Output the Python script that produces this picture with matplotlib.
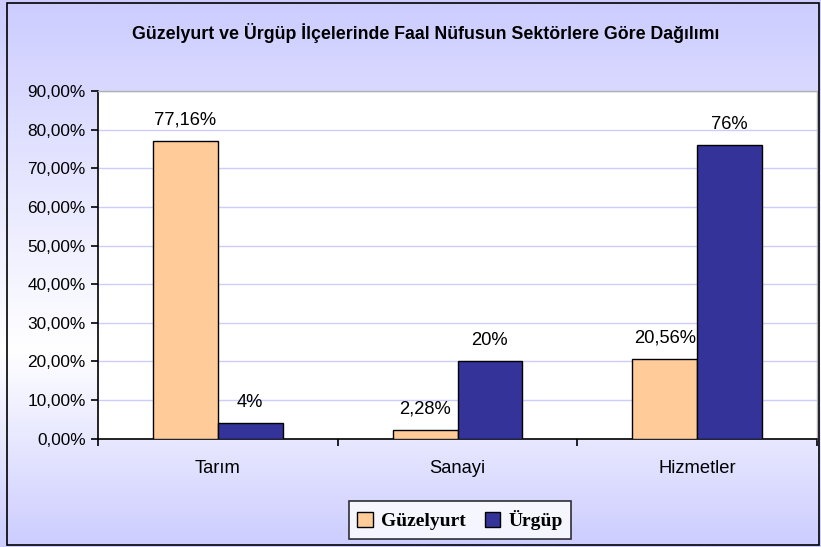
import numpy as np
import matplotlib
matplotlib.use("Agg")
from matplotlib import pyplot as plt
from matplotlib.patches import Rectangle
from matplotlib.ticker import FuncFormatter, FixedLocator

categories = ["Tarım", "Sanayi", "Hizmetler"]
guzelyurt = [0.7716, 0.0228, 0.2056]
urgup = [0.04, 0.20, 0.76]
guzelyurt_labels = ["77,16%", "2,28%", "20,56%"]
urgup_labels = ["4%", "20%", "76%"]
title = "Güzelyurt ve Ürgüp İlçelerinde Faal Nüfusun Sektörlere Göre Dağılımı"

plt.rcParams['font.family'] = ['Liberation Sans', 'DejaVu Sans']

fig = plt.figure(figsize=(8.21, 5.47), dpi=100)

# gradient background: lavender at top and bottom, white lower-middle
bg = fig.add_axes([0, 0, 1, 1], zorder=0)
t = np.linspace(0, 1, 400)
centre = 0.36
w = np.where(t < centre, 1 - t / centre, (t - centre) / (1 - centre))
lav = np.array([204, 204, 255]) / 255
col = 1 - w[:, None] * (1 - lav)
bg.imshow(col[:, None, :], aspect="auto", extent=[0, 1, 0, 1], origin="lower")
bg.set_xlim(0, 1)
bg.set_ylim(0, 1)
bg.axis("off")
fig.patches.append(Rectangle((7 / 821, 2 / 547), 812 / 821, 542 / 547, transform=fig.transFigure,
                             fill=False, edgecolor="black", linewidth=1.2, zorder=10))

ax = fig.add_axes([98 / 821, (547 - 438.7) / 547, 719 / 821, 347.7 / 547], zorder=1)
ax.set_facecolor("white")

x = np.arange(len(categories))
bw = 0.27
ax.bar(x - bw / 2, guzelyurt, bw, color="#FFCC99", edgecolor="black", linewidth=1, label="Güzelyurt", zorder=3)
ax.bar(x + bw / 2, urgup, bw, color="#333399", edgecolor="black", linewidth=1, label="Ürgüp", zorder=3)

for xi, v, s in zip(x, guzelyurt, guzelyurt_labels):
    ax.annotate(s, (xi - bw / 2, v), xytext=(0, 9), textcoords="offset points",
                ha="center", va="bottom", fontsize=13.2, zorder=4)
for xi, v, s in zip(x, urgup, urgup_labels):
    ax.annotate(s, (xi + bw / 2, v), xytext=(0, 9), textcoords="offset points",
                ha="center", va="bottom", fontsize=13.2, zorder=4)

ax.set_xlim(-0.5, len(categories) - 0.5)
ax.set_ylim(0, 0.9)
ax.yaxis.set_major_locator(FixedLocator(np.arange(0, 0.91, 0.1)))
ax.yaxis.set_major_formatter(FuncFormatter(lambda v, p: f"{v * 100:.2f}%".replace(".", ",")))
ax.grid(axis="y", color="#CCCCFF", linewidth=1, zorder=0)
ax.set_axisbelow(True)

ax.set_xticks(x)
ax.set_xticklabels(categories, fontsize=13.2)
ax.tick_params(axis="x", length=0, pad=15)
ax.set_xticks(np.arange(-0.5, len(categories), 1), minor=True)
ax.tick_params(axis="x", which="minor", length=5, width=1.2, direction="out")
ax.tick_params(axis="y", labelsize=12.4, length=5, width=1.2, direction="out", pad=4)

for side in ["left", "bottom"]:
    ax.spines[side].set_color("black")
    ax.spines[side].set_linewidth(1.2)
for side in ["top", "right"]:
    ax.spines[side].set_color("#B0B0B0")
    ax.spines[side].set_linewidth(1)

fig.text(426 / 821, (547 - 33) / 547, title, ha="center", va="center", fontsize=12.8, fontweight="bold")

leg = fig.legend(loc="center", bbox_to_anchor=(460 / 821, (547 - 520) / 547), ncol=2, frameon=True,
                 fancybox=False, edgecolor="black", handlelength=0.8, handleheight=0.8,
                 columnspacing=1.0, handletextpad=0.4, borderpad=0.45,
                 prop={"family": "Liberation Serif", "weight": "bold", "size": 14})
leg.get_frame().set_linewidth(1.2)
leg.set_zorder(5)

fig.savefig("out.png", dpi=100)
